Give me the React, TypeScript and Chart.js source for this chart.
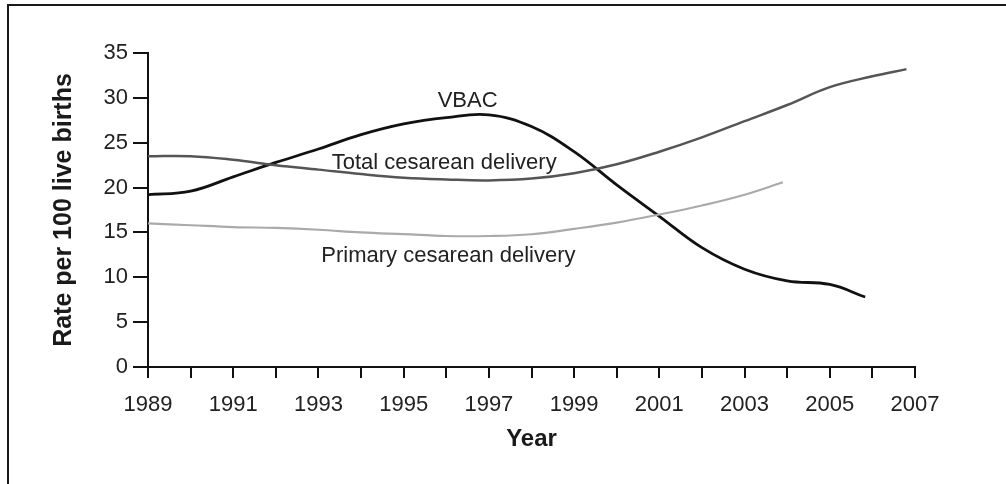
import React, { useEffect, useRef } from "react";
import { Chart, registerables } from "chart.js";

Chart.register(...registerables);

// Data
const vbacYears = [1989, 1990, 1991, 1992, 1993, 1994, 1995, 1996, 1997, 1998, 1999, 2000, 2001, 2002, 2003, 2004, 2005, 2005.83];
const vbacValues = [19.2, 19.6, 21.2, 22.8, 24.3, 25.9, 27.1, 27.8, 28.1, 26.8, 24.0, 20.3, 16.8, 13.3, 10.9, 9.6, 9.2, 7.8];

const totalYears = [1989, 1990, 1991, 1992, 1993, 1994, 1995, 1996, 1997, 1998, 1999, 2000, 2001, 2002, 2003, 2004, 2005, 2006, 2006.8];
const totalValues = [23.5, 23.5, 23.1, 22.5, 22.0, 21.5, 21.1, 20.9, 20.8, 21.0, 21.6, 22.6, 24.0, 25.6, 27.4, 29.2, 31.2, 32.4, 33.2];

const primaryYears = [1989, 1990, 1991, 1992, 1993, 1994, 1995, 1996, 1997, 1998, 1999, 2000, 2001, 2002, 2003, 2003.9];
const primaryValues = [16.0, 15.8, 15.6, 15.5, 15.3, 15.0, 14.8, 14.6, 14.6, 14.8, 15.4, 16.1, 17.0, 18.0, 19.2, 20.6];

const labelTexts = ["VBAC", "Total cesarean delivery", "Primary cesarean delivery"];
const labelYears = [1996.5, 1995.95, 1996.05];
const labelValues = [29.0, 22.1, 11.7];

const yTitle = "Rate per 100 live births";
const xTitle = "Year";

const FONT = "'Liberation Sans', Arial, Helvetica, sans-serif";

const toPoints = (xs: number[], ys: number[]) => xs.map((x, i) => ({ x, y: ys[i] }));

const labelPlugin = {
  id: "lineLabels",
  afterDatasetsDraw(chart: any) {
    const { ctx, scales } = chart;
    ctx.save();
    ctx.font = `22px ${FONT}`;
    ctx.fillStyle = "#222";
    ctx.textAlign = "center";
    ctx.textBaseline = "alphabetic";
    labelTexts.forEach((t, i) => {
      ctx.fillText(t, scales.x.getPixelForValue(labelYears[i]), scales.y.getPixelForValue(labelValues[i]));
    });
    ctx.restore();
  },
};

export default function App() {
  const ref = useRef<HTMLCanvasElement | null>(null);

  useEffect(() => {
    if (!ref.current) return;
    const chart = new Chart(ref.current, {
      type: "line",
      data: {
        datasets: [
          {
            label: "Total cesarean delivery",
            data: toPoints(totalYears, totalValues),
            borderColor: "#555",
            borderWidth: 2.5,
            pointRadius: 0,
            tension: 0.4,
          },
          {
            label: "Primary cesarean delivery",
            data: toPoints(primaryYears, primaryValues),
            borderColor: "#aaa",
            borderWidth: 2.2,
            pointRadius: 0,
            tension: 0.4,
          },
          {
            label: "VBAC",
            data: toPoints(vbacYears, vbacValues),
            borderColor: "#111",
            borderWidth: 2.8,
            pointRadius: 0,
            tension: 0.4,
          },
        ],
      },
      options: {
        animation: false,
        responsive: false,
        devicePixelRatio: 1,
        layout: { padding: { top: 53, right: 91, left: 0, bottom: 0 } },
        plugins: { legend: { display: false }, tooltip: { enabled: false } },
        scales: {
          x: {
            type: "linear",
            min: 1989,
            max: 2007,
            afterFit: (s: any) => {
              s.height = 117;
            },
            ticks: {
              stepSize: 1,
              autoSkip: false,
              maxRotation: 0,
              padding: 14,
              color: "#222",
              font: { family: FONT, size: 22 },
              callback: (v: any) => (Number(v) % 2 === 1 ? String(v) : ""),
            },
            grid: { drawOnChartArea: false, drawTicks: true, tickLength: 11, color: "#111", lineWidth: 2 },
            border: { display: true, color: "#111", width: 2 },
            title: {
              display: true,
              text: xTitle,
              color: "#1a1a1a",
              font: { family: FONT, size: 24, weight: "bold" },
              padding: { top: 0, bottom: 30 },
            },
          },
          y: {
            min: 0,
            max: 35,
            afterFit: (s: any) => {
              s.width = 148;
            },
            ticks: {
              stepSize: 5,
              padding: 5,
              color: "#222",
              font: { family: FONT, size: 22 },
            },
            grid: { drawOnChartArea: false, drawTicks: true, tickLength: 15, color: "#111", lineWidth: 2 },
            border: { display: true, color: "#111", width: 2 },
            title: {
              display: true,
              text: yTitle,
              color: "#1a1a1a",
              font: { family: FONT, size: 25, weight: "bold" },
              padding: { top: 49, bottom: 0 },
            },
          },
        },
      },
      plugins: [labelPlugin],
    } as any);
    return () => chart.destroy();
  }, []);

  return (
    <div style={{ position: "absolute", left: 0, top: 0, width: 1006, height: 484, overflow: "hidden", background: "#fff" }}>
      <div
        style={{
          position: "absolute",
          left: 7,
          top: 4,
          width: 1100,
          height: 600,
          border: "2px solid #1a1a1a",
          boxSizing: "border-box",
        }}
      />
      <canvas ref={ref} width={1006} height={484} style={{ position: "absolute", left: 0, top: 0, width: 1006, height: 484 }} />
    </div>
  );
}
